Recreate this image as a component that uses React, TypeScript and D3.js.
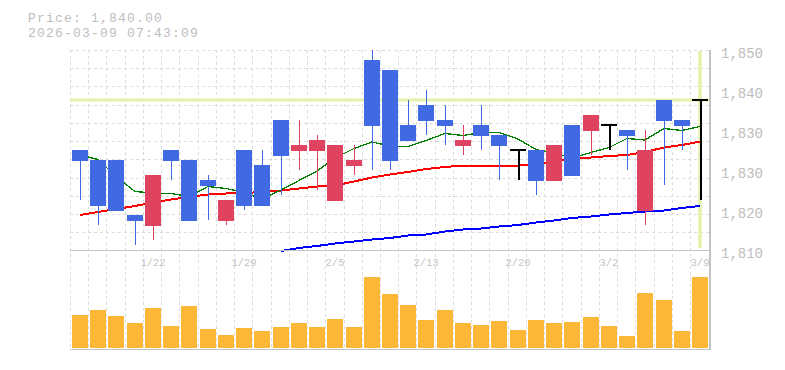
import * as d3 from "d3";

const dates = ["1/16", "1/19", "1/20", "1/21", "1/22", "1/23", "1/26", "1/27", "1/28", "1/29", "1/30", "2/2", "2/3", "2/4", "2/5", "2/6", "2/9", "2/10", "2/12", "2/13", "2/16", "2/17", "2/18", "2/19", "2/20", "2/24", "2/25", "2/26", "2/27", "3/2", "3/3", "3/4", "3/5", "3/6", "3/9"];

const opens = [1830, 1828, 1828, 1817, 1815, 1830, 1828, 1824, 1816, 1830, 1827, 1836, 1830, 1830, 1820, 1827, 1848, 1846, 1835, 1839, 1836, 1831, 1835, 1833, 1830, 1830, 1824, 1835, 1834, 1835, 1834, 1818, 1840, 1836, 1840];
const highs = [1830, 1828, 1828, 1817, 1825, 1830, 1828, 1825, 1820, 1830, 1830, 1836, 1836, 1833, 1831, 1831, 1850, 1846, 1840, 1842, 1839, 1835, 1839, 1833, 1830, 1830, 1831, 1835, 1837, 1835, 1834, 1834, 1840, 1836, 1840];
const lows = [1820, 1815, 1818, 1811, 1812, 1824, 1816, 1816, 1815, 1818, 1819, 1821, 1826, 1822, 1820, 1825, 1826, 1826, 1832, 1833, 1831, 1829, 1830, 1824, 1824, 1821, 1824, 1825, 1829, 1830, 1826, 1815, 1823, 1830, 1820];
const closes = [1828, 1819, 1818, 1816, 1825, 1828, 1816, 1823, 1820, 1819, 1819, 1829, 1831, 1832, 1831, 1828, 1835, 1828, 1832, 1836, 1835, 1832, 1833, 1831, 1830, 1824, 1831, 1825, 1837, 1835, 1833, 1830, 1836, 1835, 1840];

// volume, thousand shares
const volumes = [3330, 3830, 3230, 2530, 4030, 2230, 4230, 1930, 1330, 2030, 1730, 2130, 2530, 2130, 2930, 2130, 7130, 5430, 4330, 2830, 3830, 2530, 2330, 2730, 1830, 2830, 2530, 2630, 3130, 2230, 1230, 5530, 4830, 1730, 7130];

const ma5 = [1829.0, 1828.1, 1824.7, 1821.7, 1821.4, 1821.3, 1820.7, 1822.7, 1822.3, 1821.5, 1820.2, 1822.0, 1823.9, 1825.8, 1828.4, 1830.3, 1831.6, 1830.8, 1830.7, 1831.9, 1833.3, 1832.9, 1833.5, 1833.5, 1832.2, 1830.1, 1829.4, 1828.4, 1829.5, 1830.5, 1832.3, 1832.0, 1834.3, 1833.9, 1834.7];
const ma25 = [1817.0, 1817.6, 1818.2, 1818.8, 1819.5, 1820.1, 1820.6, 1821.1, 1821.3, 1821.4, 1821.6, 1821.9, 1822.3, 1822.7, 1822.9, 1823.7, 1824.5, 1825.1, 1825.6, 1826.2, 1826.6, 1826.9, 1826.9, 1826.9, 1826.9, 1827.1, 1827.7, 1828.2, 1828.5, 1828.8, 1829.0, 1829.6, 1830.5, 1831.0, 1831.7];
const ma75 = [null, null, null, null, null, null, null, null, null, null, null, 1809.8, 1810.4, 1810.8, 1811.3, 1811.7, 1812.1, 1812.4, 1812.9, 1813.1, 1813.7, 1814.1, 1814.3, 1814.7, 1815.0, 1815.5, 1815.9, 1816.4, 1816.7, 1817.1, 1817.4, 1817.7, 1817.9, 1818.4, 1818.8];

const xTickDates = ["1/22", "1/29", "2/5", "2/13", "2/20", "3/2", "3/9"];
const yTickValues = [1850, 1842, 1834, 1826, 1818, 1810];
const yTickLabels = ["1,850", "1,840", "1,830", "1,830", "1,820", "1,810"];

const currentPrice = 1840;
const headerPrice = "Price: 1,840.00";
const headerTime = "2026-03-09 07:43:09";

const W = 785, H = 370;
const left = 70, right = 710, top = 50, priceBottom = 250.5, volBottom = 349.5;
const step = 18.235;
const font = "'Liberation Mono', 'DejaVu Sans Mono', monospace";

const UP = "#e0435f";
const DOWN = "#4169e1";
const HILITE = "#e2f2aa";

export default function App() {
  const x = d3.scaleBand<string>().domain(dates).range([left, left + step * dates.length]);
  const y = d3.scaleLinear().domain([1810, 1850]).range([250, 50]);
  const yv = d3.scaleLinear().domain([0, 10000]).range([348, 248]);

  const barLeft = (d: string) => Math.round(x(d) as number) + 2;
  const cx = (d: string) => barLeft(d) + 8;

  const maLine = (vals: (number | null)[]) =>
    d3.line<number | null>()
      .defined((v) => v !== null)
      .x((_, i) => cx(dates[i]))
      .y((v) => y(v as number))(vals) || "";

  const hGrid: number[] = [];
  for (let k = 0; top + k * step < 249; k++) hGrid.push(top + k * step);

  const lastX = cx(dates[dates.length - 1]);

  return (
    <svg width={W} height={H} style={{ position: "absolute", left: 0, top: 0, background: "#fff" }}>
      <text x={28} y={22} fontFamily={font} fontSize={13} letterSpacing={1.2} fill="#bdbdbd">{headerPrice}</text>
      <text x={28} y={37} fontFamily={font} fontSize={13} letterSpacing={1.2} fill="#bdbdbd">{headerTime}</text>

      {/* grid */}
      <g stroke="#dcdcdc" strokeDasharray="3,3" shapeRendering="crispEdges">
        {dates.map((d) => (
          <line key={d} x1={Math.round(x(d) as number) + 0.5} x2={Math.round(x(d) as number) + 0.5} y1={top} y2={volBottom} />
        ))}
        {hGrid.map((g, i) => (
          <line key={i} x1={left} x2={right} y1={Math.round(g) + 0.5} y2={Math.round(g) + 0.5} />
        ))}
      </g>

      {/* current price highlight */}
      <line x1={left} x2={right} y1={y(currentPrice)} y2={y(currentPrice)} stroke={HILITE} strokeWidth={3} />
      <line x1={lastX} x2={lastX} y1={top + 1} y2={248} stroke={HILITE} strokeWidth={3.5} />

      {/* moving averages */}
      <g fill="none" shapeRendering="crispEdges">
        <path d={maLine(ma75)} stroke="#0000ff" strokeWidth={2} />
        <path d={maLine(ma25)} stroke="#ff0000" strokeWidth={2} />
        <path d={maLine(ma5)} stroke="#008000" strokeWidth={1.3} />
      </g>

      {/* candles */}
      <g shapeRendering="crispEdges">
        {dates.map((d, i) => {
          const o = opens[i], c = closes[i];
          const bx = barLeft(d);
          const wx = bx + 8.5;
          if (o === c) {
            return (
              <g key={d} stroke="#000" strokeWidth={2}>
                <line x1={wx} x2={wx} y1={y(highs[i])} y2={y(lows[i])} />
                <line x1={bx} x2={bx + 16} y1={y(o)} y2={y(o)} />
              </g>
            );
          }
          const col = c > o ? UP : DOWN;
          const yt = y(Math.max(o, c));
          const yb = y(Math.min(o, c));
          return (
            <g key={d}>
              <line x1={wx} x2={wx} y1={y(highs[i])} y2={y(lows[i])} stroke={col} strokeWidth={1.2} />
              <rect x={bx} y={yt} width={16} height={yb - yt + 1} fill={col} />
            </g>
          );
        })}
      </g>

      {/* volume */}
      <g fill="#fbb735" shapeRendering="crispEdges">
        {dates.map((d, i) => (
          <rect key={d} x={barLeft(d)} y={yv(volumes[i])} width={16} height={yv(0) - yv(volumes[i])} />
        ))}
      </g>

      {/* borders */}
      <g stroke="#c4c4c4" strokeWidth={1.5} shapeRendering="crispEdges">
        <line x1={left} x2={right} y1={priceBottom} y2={priceBottom} />
        <line x1={left} x2={right} y1={volBottom} y2={volBottom} />
        <line x1={right} x2={right} y1={top} y2={volBottom} />
      </g>

      {/* right axis */}
      <g fontFamily={font} fontSize={14} fill="#bdbdbd">
        {yTickValues.map((v, i) => (
          <text key={i} x={721} y={y(v) + 8}>{yTickLabels[i]}</text>
        ))}
      </g>

      {/* date labels */}
      <g fontFamily={font} fontSize={10.5} fill="#c4c4c4" textAnchor="middle">
        {xTickDates.map((d) => (
          <text key={d} x={cx(d)} y={266}>{d}</text>
        ))}
      </g>
    </svg>
  );
}
